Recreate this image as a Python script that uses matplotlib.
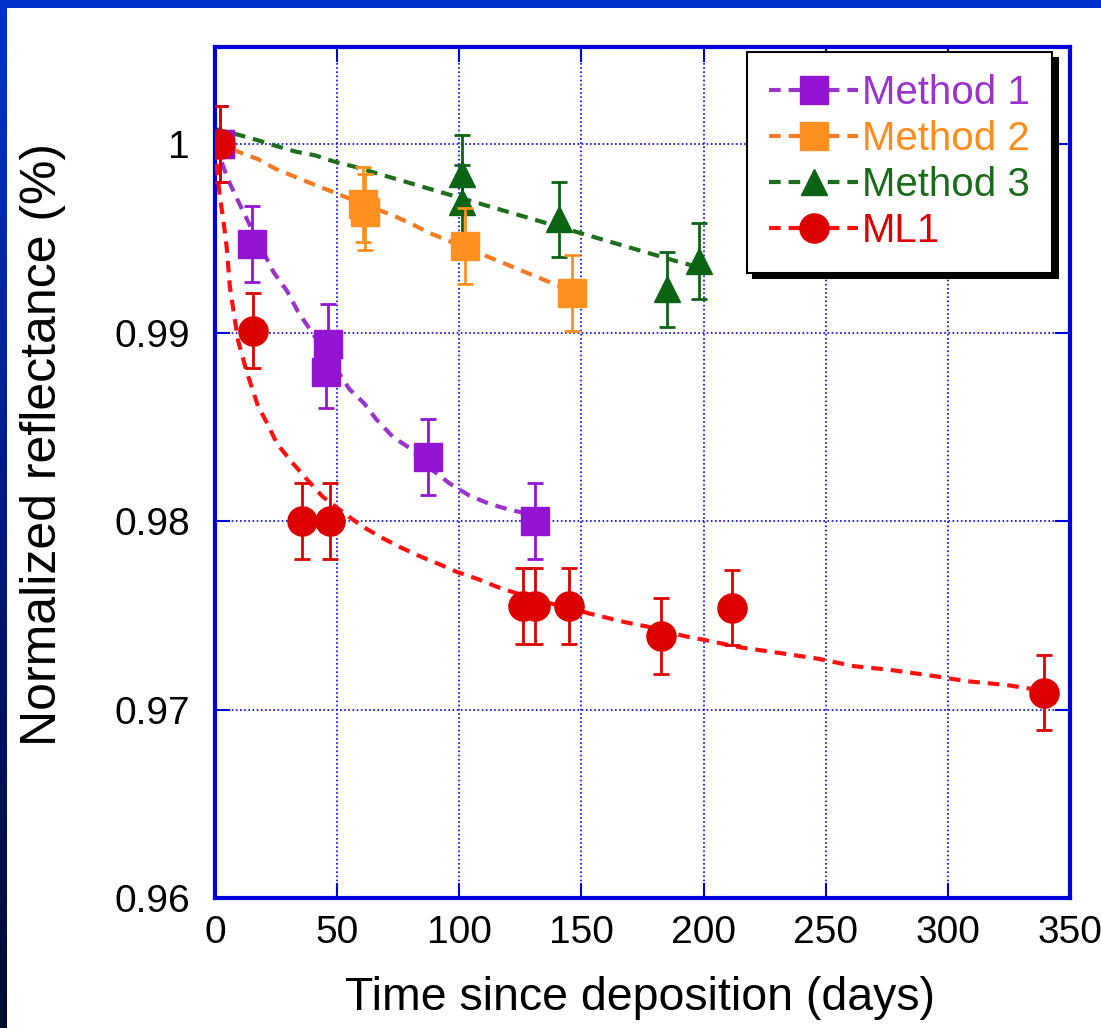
import matplotlib
matplotlib.use("Agg")
import matplotlib.pyplot as plt
import numpy as np
from matplotlib.lines import Line2D
from matplotlib.patches import Rectangle
from matplotlib.colors import LinearSegmentedColormap

plt.rcParams['font.family'] = ['Liberation Sans', 'DejaVu Sans']

# ---- measured points (days, normalized reflectance) ----
m1_x = [2, 15, 45.5, 46.3, 87, 131]
m1_y = [1.0, 0.9947, 0.9879, 0.9894, 0.9834, 0.9800]
m1_err = [0.002, 0.002, 0.0019, 0.0021, 0.002, 0.002]

m2_x = [2, 60.5, 61.5, 102.5, 146]
m2_y = [1.0, 0.9968, 0.9964, 0.9946, 0.9921]
m2_err = [0.002, 0.002, 0.002, 0.002, 0.002]

m3_x = [2, 101, 101, 141, 185, 198]
m3_y = [1.0, 0.9984, 0.9969, 0.9960, 0.9923, 0.9938]
m3_err = [0.002, 0.0021, 0.002, 0.002, 0.002, 0.002]

ml1_x = [2, 15.5, 35.6, 47, 126, 131, 145, 182.5, 211.8, 339.3]
ml1_y = [1.0, 0.9901, 0.9800, 0.9800, 0.9755, 0.9755, 0.9755, 0.9739, 0.9754, 0.9709]
ml1_err = [0.002] * 10

# ---- fitted curves ----
m1_fit_x = [0, 5.4, 9, 15, 24, 29.5, 34, 45, 55, 61, 66, 73, 80, 88, 96, 104, 112, 120, 131]
m1_fit_y = [1.0, 0.9981, 0.9971, 0.9955, 0.9932, 0.9922, 0.9911, 0.9890, 0.9870, 0.98625,
            0.9854, 0.98444, 0.98385, 0.9828, 0.9820, 0.98136, 0.98093, 0.98062, 0.9803]

m2_fit_x = [0, 7.5, 12.3, 17.6, 25, 33, 40, 48.4, 60, 72.5, 80, 87, 95, 102, 115, 134, 146]
m2_fit_y = [1.0002, 0.9997, 0.99945, 0.9992, 0.99867, 0.99825, 0.99788, 0.99745, 0.99685,
            0.99623, 0.9958, 0.99533, 0.9949, 0.99453, 0.99385, 0.99283, 0.9922]

m3_fit_x = [0, 9.4, 17.6, 25, 33, 41, 48, 57, 78, 100, 120, 149, 188.5, 200]
m3_fit_y = [1.0008, 1.0005, 1.0002, 0.9999, 0.9996, 0.9994, 0.9991, 0.9988, 0.9980,
            0.99716, 0.9964, 0.9953, 0.9938, 0.9934]

ml1_fit_x = [0, 1, 2, 3.4, 4.8, 6.1, 8, 9.4, 13, 17.6, 21.3, 25.4, 31.6, 37.7, 44, 53, 60.5,
             68.5, 76, 84.4, 92, 99, 108, 115.6, 125, 135, 145, 153, 161, 169, 177, 192, 200,
             215, 231, 246.7, 261.5, 276.6, 293, 308, 324, 339]
ml1_fit_y = [1.0, 0.9984, 0.9972, 0.9960, 0.9945, 0.9924, 0.9908, 0.9896, 0.9879, 0.9861,
             0.9852, 0.9841, 0.9831, 0.9822, 0.9813, 0.9804, 0.9797, 0.9791, 0.9786, 0.9781,
             0.9777, 0.9773, 0.9769, 0.9765, 0.9761, 0.9757, 0.9754, 0.9751, 0.97485, 0.9746,
             0.9744, 0.9739, 0.9737, 0.9733, 0.9730, 0.9727, 0.9723, 0.9721, 0.9718, 0.9715,
             0.9713, 0.9710]

labels = ['Method 1', 'Method 2', 'Method 3', 'ML1']
xticks = [0, 50, 100, 150, 200, 250, 300, 350]
yticks = [0.96, 0.97, 0.98, 0.99, 1.0]
yticklabels = ['0.96', '0.97', '0.98', '0.99', '1']

fig = plt.figure(figsize=(11.01, 10.28), dpi=100)
fig.patch.set_facecolor('white')

# slide border: blue strip on top, gradient strip on the left
fig.patches.append(Rectangle((0, 1 - 8 / 1028), 1, 8 / 1028, transform=fig.transFigure,
                             facecolor='#0033CC', edgecolor='none', zorder=0))
bg = fig.add_axes([0, 0, 7 / 1101, 1 - 8 / 1028])
grad = LinearSegmentedColormap.from_list('slide', ['#000A2E', '#001A80', '#0033CC'])
bg.imshow(np.linspace(0, 1, 256).reshape(-1, 1), aspect='auto', cmap=grad, origin='lower')
bg.axis('off')

ax = fig.add_axes([215 / 1101, 1 - 898 / 1028, 855 / 1101, 851 / 1028])

fit_style = dict(linestyle=(0, (2.8, 1.9)), linewidth=3)
eb_style = dict(elinewidth=2, capsize=6, capthick=2, linestyle='none')

ax.plot(m3_fit_x, m3_fit_y, color='#1E6E1E', zorder=2, **fit_style)
ax.errorbar(m3_x, m3_y, yerr=m3_err, marker='^', ms=19, color='#0A6414', zorder=3, **eb_style)

ax.plot(m2_fit_x, m2_fit_y, color='#F27A22', zorder=4, **fit_style)
ax.errorbar(m2_x, m2_y, yerr=m2_err, marker='s', ms=20, color='#FF9020', zorder=5, **eb_style)

ax.plot(m1_fit_x, m1_fit_y, color='#9933CC', zorder=6, **fit_style)
ax.errorbar(m1_x, m1_y, yerr=m1_err, marker='s', ms=20, color='#9414D4', zorder=7, **eb_style)

ax.plot(ml1_fit_x, ml1_fit_y, color='#FF1010', zorder=8, **fit_style)
ax.errorbar(ml1_x, ml1_y, yerr=ml1_err, marker='o', ms=21, color='#DD0000', zorder=9, **eb_style)

ax.set_xlim(0, 350)
ax.set_ylim(0.96, 1.00515)
ax.set_xticks(xticks)
ax.set_yticks(yticks, yticklabels)

ax.grid(True, color='#0000EE', linestyle=(0, (1, 1.5)), linewidth=1.2)
ax.set_axisbelow(True)
for sp in ax.spines.values():
    sp.set_color('#0000DD')
    sp.set_linewidth(3)
ax.tick_params(direction='in', length=11, width=1.5, color='#0000DD',
               top=True, right=True, labelsize=28)
ax.tick_params(axis='y', pad=18)
ax.tick_params(axis='x', pad=12)

ax.set_xlabel('Time since deposition (days)', fontsize=33.5)
ax.xaxis.set_label_coords(0.497, -0.092)
ax.set_ylabel('Normalized reflectance (%)', fontsize=36)
ax.yaxis.set_label_coords(-0.174, 0.533)

handles = [
    Line2D([], [], color='#9933CC', marker='s', ms=20, markerfacecolor='#9414D4',
           markeredgecolor='#9414D4', **fit_style),
    Line2D([], [], color='#F27A22', marker='s', ms=20, markerfacecolor='#FF9020',
           markeredgecolor='#FF9020', **fit_style),
    Line2D([], [], color='#1E6E1E', marker='^', ms=19, markerfacecolor='#0A6414',
           markeredgecolor='#0A6414', **fit_style),
    Line2D([], [], color='#FF1010', marker='o', ms=21, markerfacecolor='#DD0000',
           markeredgecolor='#DD0000', **fit_style),
]
leg = ax.legend(handles, labels, loc='upper right', bbox_to_anchor=(0.979, 0.994),
                borderaxespad=0, fontsize=29, handlelength=2.2, handletextpad=0.1,
                labelspacing=0.2, borderpad=0.55, fancybox=False, framealpha=1,
                shadow={'ox': 4, 'oy': -4, 'color': 'black', 'alpha': 1})
leg.get_frame().set_edgecolor('black')
leg.get_frame().set_linewidth(1.5)
leg.set_zorder(20)
for txt, c in zip(leg.get_texts(), ['#9933CC', '#FF8C1A', '#1A6B1A', '#DD0000']):
    txt.set_color(c)

fig.savefig('out.png', dpi=100)
